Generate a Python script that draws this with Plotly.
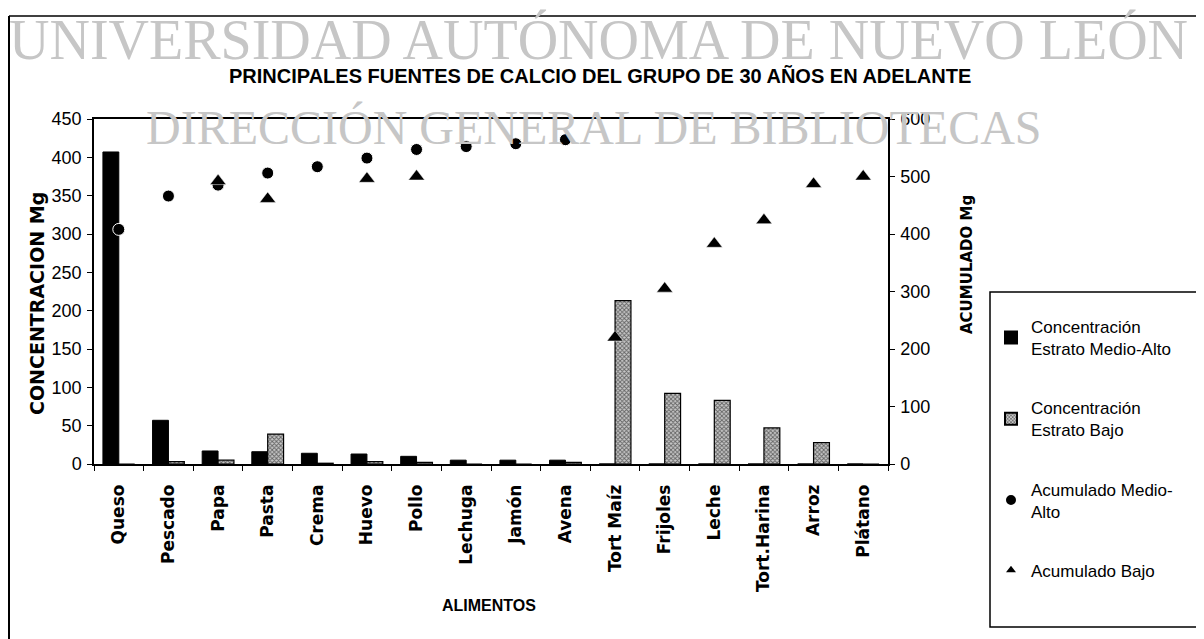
import plotly.graph_objects as go

# ---------------- data ----------------
categories = ["Queso", "Pescado", "Papa", "Pasta", "Crema", "Huevo", "Pollo", "Lechuga",
              "Jamón", "Avena", "Tort Maíz", "Frijoles", "Leche", "Tort.Harina", "Arroz", "Plátano"]
conc_medio_alto = [407, 57, 17, 16, 14, 13, 10, 5, 5, 5, 0, 0, 0, 0, 0, 0]
conc_bajo = [0, 3, 5, 39, 1, 3, 2, 0, 0, 2, 213, 92, 83, 47, 28, 0]
acum_medio_alto = [408, 466, 485, 506, 517, 532, 547, 552, 557, 564,
                   None, None, None, None, None, None]
acum_bajo = [None, None, 492, 461, None, 496, 500, None, None, None,
             220, 305, 383, 424, 487, 500]
left_ticks = [0, 50, 100, 150, 200, 250, 300, 350, 400, 450]
right_ticks = [0, 100, 200, 300, 400, 500, 600]

# ---------------- geometry (screen pixels) ----------------
OFF = 8                      # default body margin of the page
FW, FH = 1204 - OFF, 639 - OFF
PL, PR, PT, PB = 94, 888, 119, 464


def px_x(px):
    return (px - PL) / (PR - PL)


def px_y(py):
    return (PB - py) / (PB - PT)


fig = go.Figure()

fig.add_trace(go.Bar(
    x=categories, y=conc_medio_alto, name="Concentración<br>Estrato Medio-Alto",
    marker=dict(color="black", line=dict(color="black", width=1)),
    legendgroup="a", offsetgroup="a"))
fig.add_trace(go.Bar(
    x=categories, y=conc_bajo, name="Concentración<br>Estrato Bajo",
    marker=dict(color="white", line=dict(color="black", width=1.2),
                pattern=dict(shape="x", size=3, solidity=0.5, fgcolor="black",
                             bgcolor="#c8c8c8")),
    legendgroup="b", offsetgroup="b"))
fig.add_trace(go.Scatter(
    x=categories, y=acum_medio_alto, name="Acumulado Medio-<br>Alto", mode="markers",
    yaxis="y2", marker=dict(symbol="circle", size=12, color="black",
                            line=dict(color="white", width=1)),
    legendgroup="c"))
fig.add_trace(go.Scatter(
    x=categories, y=acum_bajo, name="Acumulado Bajo", mode="markers",
    yaxis="y2", marker=dict(symbol="triangle-up", size=14, color="black",
                            line=dict(color="white", width=0.5)),
    legendgroup="d"))

tick_font = dict(family="Liberation Sans, Arial", size=18, color="black")

fig.update_layout(
    width=FW, height=FH,
    margin=dict(l=PL - OFF, r=FW - (PR - OFF), t=PT - OFF, b=FH - (PB - OFF), autoexpand=False),
    paper_bgcolor="white", plot_bgcolor="white",
    barmode="group", bargap=0.36, bargroupgap=0,
    showlegend=True,
    legend=dict(x=px_x(991), y=px_y(309), xanchor="left", yanchor="top",
                bgcolor="rgba(0,0,0,0)", borderwidth=0, tracegroupgap=34,
                itemsizing="constant", itemwidth=30,
                font=dict(family="Liberation Sans, Arial", size=17, color="black")),
    xaxis=dict(type="category", range=[-0.5, len(categories) - 0.5], autorange=False,
               showline=True, linecolor="black", linewidth=1.5,
               mirror=True, ticks="outside", ticklen=5, tickcolor="black",
               tickson="boundaries", tickangle=-90, ticklabelstandoff=12,
               tickfont=dict(family="DejaVu Sans", size=17, color="black", weight="bold"),
               showgrid=False, zeroline=False),
    yaxis=dict(range=[0, 450], tickvals=left_ticks, showline=True, linecolor="black",
               linewidth=1.5, ticks="outside", ticklen=5, tickcolor="black",
               tickfont=tick_font, showgrid=False, zeroline=False, ticklabelstandoff=2),
    yaxis2=dict(range=[0, 600], tickvals=right_ticks, overlaying="y", side="right",
                showline=True, linecolor="black", linewidth=1.5, ticks="outside",
                ticklen=5, tickcolor="black", tickfont=tick_font, showgrid=False,
                zeroline=False, ticklabelstandoff=2),
)

annotations = []
# watermark lines
annotations.append(dict(text="UNIVERSIDAD AUTÓNOMA DE NUEVO LEÓN", x=px_x(598), y=px_y(40),
                        xref="paper", yref="paper", showarrow=False, xanchor="center",
                        yanchor="middle",
                        font=dict(family="Liberation Serif, DejaVu Serif", size=56,
                                  color="#c6c6c6")))
annotations.append(dict(text="DIRECCIÓN GENERAL DE BIBLIOTECAS", x=px_x(594), y=px_y(127),
                        xref="paper", yref="paper", showarrow=False, xanchor="center",
                        yanchor="middle",
                        font=dict(family="Liberation Serif, DejaVu Serif", size=48,
                                  color="#c6c6c6")))
# title
annotations.append(dict(text="PRINCIPALES FUENTES DE CALCIO DEL GRUPO DE 30 AÑOS EN ADELANTE",
                        x=px_x(600), y=px_y(76), xref="paper", yref="paper", showarrow=False,
                        xanchor="center", yanchor="middle",
                        font=dict(family="Liberation Sans, Arial", size=20, color="black",
                                  weight="bold")))
# axis titles
annotations.append(dict(text="CONCENTRACION Mg", x=px_x(37), y=px_y(304), xref="paper",
                        yref="paper", showarrow=False, textangle=-90, xanchor="center",
                        yanchor="middle",
                        font=dict(family="DejaVu Sans", size=19, color="black", weight="bold")))
annotations.append(dict(text="ACUMULADO Mg", x=px_x(967), y=px_y(264), xref="paper",
                        yref="paper", showarrow=False, textangle=-90, xanchor="center",
                        yanchor="middle",
                        font=dict(family="DejaVu Sans", size=15, color="black", weight="bold")))
annotations.append(dict(text="ALIMENTOS", x=px_x(489), y=px_y(605), xref="paper",
                        yref="paper", showarrow=False, xanchor="center", yanchor="middle",
                        font=dict(family="Liberation Sans, Arial", size=16, color="black",
                                  weight="bold")))
fig.update_layout(annotations=annotations)

shapes = []
# outer frame of the scanned chart
shapes.append(dict(type="line", xref="paper", yref="paper", x0=px_x(9), x1=px_x(1215),
                   y0=px_y(16), y1=px_y(16), line=dict(color="black", width=1.5)))
shapes.append(dict(type="line", xref="paper", yref="paper", x0=px_x(9), x1=px_x(9),
                   y0=px_y(16), y1=px_y(650), line=dict(color="black", width=2)))
# legend box
shapes.append(dict(type="rect", xref="paper", yref="paper", x0=px_x(990), x1=px_x(1220),
                   y0=px_y(627), y1=px_y(292), line=dict(color="black", width=1.5),
                   fillcolor="rgba(0,0,0,0)"))
fig.update_layout(shapes=shapes)

fig.write_html("out.html")
